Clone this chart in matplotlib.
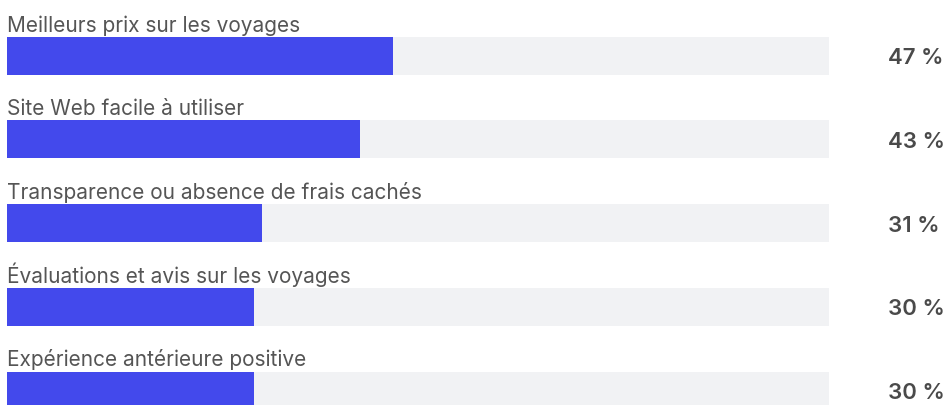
import matplotlib
matplotlib.use("Agg")
import matplotlib.pyplot as plt

# data
labels = [
    "Meilleurs prix sur les voyages",
    "Site Web facile à utiliser",
    "Transparence ou absence de frais cachés",
    "Évaluations et avis sur les voyages",
    "Expérience antérieure positive",
]
values = [47, 43, 31, 30, 30]
value_labels = ["47 %", "43 %", "31 %", "30 %", "30 %"]

BLUE = "#4349ec"
TRACK = "#f1f2f4"
TEXT = "#555555"
VALTEXT = "#4a4a4a"

W, H = 951, 406
fig = plt.figure(figsize=(W / 100, H / 100), dpi=100)

# axes: x from px 7 to 829 (0..100), rows spaced 83.75 px starting at 56.5 px
row = 83.75
first = 56.5
ax = fig.add_axes([7 / W, 0, 822 / W, 1])
ax.set_xlim(0, 100)
ax.set_ylim((H - first) / row, -first / row)
ax.axis("off")

ypos = list(range(len(values)))
bh = 38 / row
ax.barh(ypos, [100] * len(values), height=bh, color=TRACK, linewidth=0)
ax.barh(ypos, values, height=bh, color=BLUE, linewidth=0)

for i, (lab, vl) in enumerate(zip(labels, value_labels)):
    ax.text(0, i - bh / 2 - 6 / row, lab, ha="left", va="baseline",
            fontsize=15, color=TEXT, family="Inter", clip_on=False)
    ax.text(107.2, i + 0.09, vl, ha="left", va="baseline",
            fontsize=16, color=VALTEXT, family="Inter", fontweight="semibold",
            clip_on=False)

fig.savefig("out.png", dpi=100)
